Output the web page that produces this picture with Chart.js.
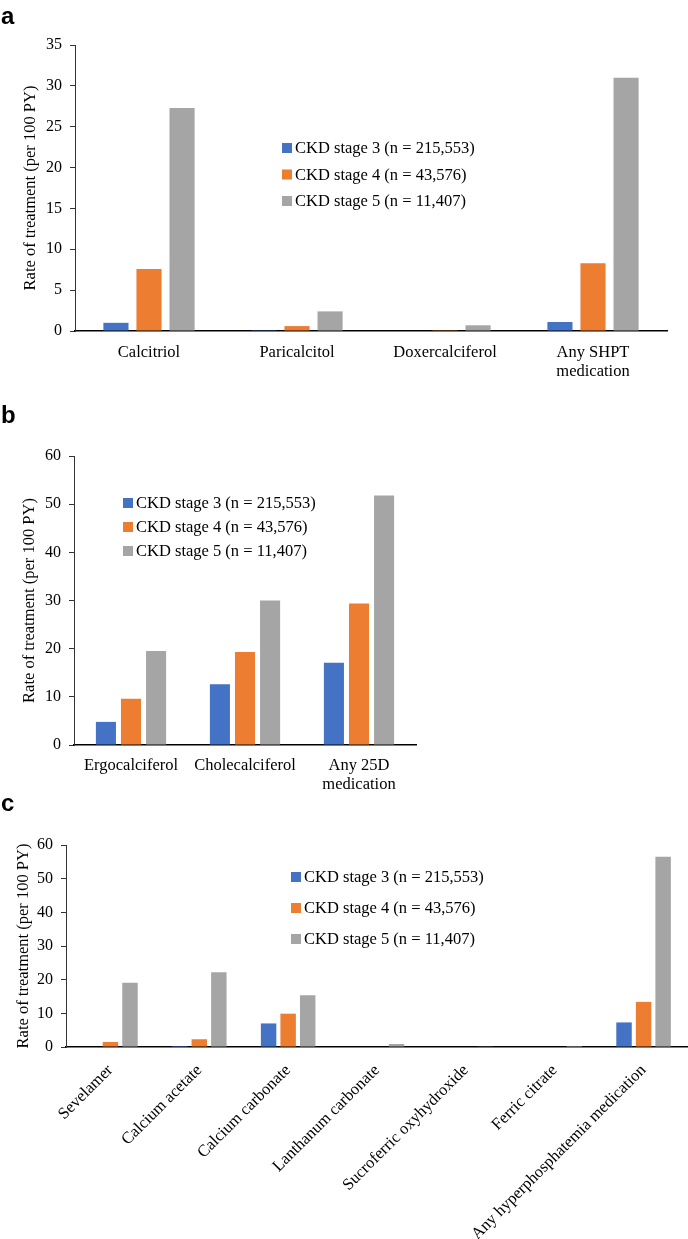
<!DOCTYPE html>
<html>
<head>
<meta charset="utf-8">
<script src="https://cdn.jsdelivr.net/npm/chart.js@4.4.1/dist/chart.umd.min.js"></script>
<style>
  body { margin: 0; background: #fff; }
  .wrap { position: relative; width: 688px; height: 1239px; }
  .panel { position: absolute; left: 0; }
  .tag { position: absolute; font: bold 24px "Liberation Sans", Arial, sans-serif; line-height: 24px; }
</style>
</head>
<body>
<div class="wrap">
  <canvas id="chartA" class="panel" style="top:0px" width="688" height="395"></canvas>
  <canvas id="chartB" class="panel" style="top:380px" width="430" height="420"></canvas>
  <canvas id="chartC" class="panel" style="top:800px" width="688" height="439"></canvas>
  <div class="tag" style="left:1px; top:4px">a</div>
  <div class="tag" style="left:1px; top:403px">b</div>
  <div class="tag" style="left:1px; top:791px">c</div>
</div>
<script>
// legend labels
const stage3Label = "CKD stage 3 (n = 215,553)";
const stage4Label = "CKD stage 4 (n = 43,576)";
const stage5Label = "CKD stage 5 (n = 11,407)";
const yTitle = "Rate of treatment (per 100 PY)";

// panel a - SHPT medications
const catsA = ["Calcitriol", "Paricalcitol", "Doxercalciferol", ["Any SHPT", "medication"]];
const stage3A = [1.0, 0.1, 0.0, 1.1];
const stage4A = [7.6, 0.6, 0.1, 8.3];
const stage5A = [27.3, 2.4, 0.7, 31.0];

// panel b - 25D medications
const catsB = ["Ergocalciferol", "Cholecalciferol", ["Any 25D", "medication"]];
const stage3B = [4.8, 12.6, 17.1];
const stage4B = [9.6, 19.3, 29.4];
const stage5B = [19.5, 30.0, 51.8];

// panel c - hyperphosphatemia medications
const catsC = ["Sevelamer", "Calcium acetate", "Calcium carbonate", "Lanthanum carbonate",
  "Sucroferric oxyhydroxide", "Ferric citrate", "Any hyperphosphatemia medication"];
const stage3C = [0, 0.3, 7.0, 0, 0, 0, 7.3];
const stage4C = [1.5, 2.3, 9.9, 0, 0, 0, 13.4];
const stage5C = [19.1, 22.2, 15.4, 0.9, 0.2, 0.3, 56.5];

const BLUE = "#4472C4", ORANGE = "#ED7D31", GRAY = "#A5A5A5";
const FONT = '"Liberation Serif", "Times New Roman", serif';

// legend drawn inside the plot at a fixed spot, like the original
const floatLegend = {
  id: "floatLegend",
  afterDraw(chart, args, opts) {
    const ctx = chart.ctx;
    ctx.save();
    ctx.font = "16.5px " + FONT;
    ctx.textBaseline = "middle";
    chart.data.datasets.forEach((ds, i) => {
      const y = opts.y + i * opts.gap;
      ctx.fillStyle = ds.backgroundColor;
      ctx.fillRect(opts.x, y - 5, 10, 10);
      ctx.fillStyle = "#000";
      ctx.fillText(ds.label, opts.x + 13, y + 1);
    });
    ctx.restore();
  }
};

function makeChart(id, cats, s3, s4, s5, cfg) {
  return new Chart(document.getElementById(id), {
    type: "bar",
    data: {
      labels: cats,
      datasets: [
        { label: stage3Label, data: s3, backgroundColor: BLUE },
        { label: stage4Label, data: s4, backgroundColor: ORANGE },
        { label: stage5Label, data: s5, backgroundColor: GRAY },
      ],
    },
    plugins: [floatLegend],
    options: {
      responsive: false,
      animation: false,
      devicePixelRatio: 1,
      categoryPercentage: cfg.catPct,
      barPercentage: cfg.barPct,
      layout: { padding: cfg.padding },
      plugins: {
        legend: { display: false },
        tooltip: { enabled: false },
        floatLegend: cfg.legend,
      },
      scales: {
        x: {
          grid: { display: false },
          border: { display: true, color: "#000", width: 1.5 },
          ticks: {
            color: "#000",
            font: { family: FONT, size: 16.5, lineHeight: 1.15 },
            padding: cfg.xPad,
            autoSkip: false,
            minRotation: cfg.rot,
            maxRotation: cfg.rot,
          },
          afterFit: (s) => { s.height = cfg.xHeight; },
        },
        y: {
          min: 0,
          max: cfg.yMax,
          grid: { display: true, drawOnChartArea: false, drawTicks: true, tickLength: 5, color: "#333" },
          border: { display: true, color: "#333", width: 1 },
          ticks: {
            stepSize: cfg.step,
            color: "#000",
            padding: 8,
            font: { family: FONT, size: 16 },
          },
          title: {
            display: true,
            text: yTitle,
            color: "#000",
            font: { family: FONT, size: 16.5 },
            padding: { top: 0, bottom: 0 },
          },
          afterFit: (s) => { s.width = cfg.yWidth; },
        },
      },
    },
  });
}

makeChart("chartA", catsA, stage3A, stage4A, stage5A, {
  catPct: 0.67, barPct: 0.76,
  padding: { left: 21, right: 21, top: 45, bottom: 0 },
  yWidth: 54, xHeight: 64, xPad: 4, rot: 0,
  yMax: 35, step: 5,
  legend: { x: 282, y: 148, gap: 26.5 },
});

makeChart("chartB", catsB, stage3B, stage4B, stage5B, {
  catPct: 0.66, barPct: 0.8,
  padding: { left: 20, right: 14, top: 76, bottom: 0 },
  yWidth: 54, xHeight: 55, xPad: 3, rot: 0,
  yMax: 60, step: 10,
  legend: { x: 123, y: 123, gap: 24 },
});

makeChart("chartC", catsC, stage3C, stage4C, stage5C, {
  catPct: 0.66, barPct: 0.79,
  padding: { left: 14, right: 0, top: 45, bottom: 0 },
  yWidth: 52, xHeight: 192, xPad: 6, rot: 45,
  yMax: 60, step: 10,
  legend: { x: 291, y: 77, gap: 31 },
});
</script>
</body>
</html>
